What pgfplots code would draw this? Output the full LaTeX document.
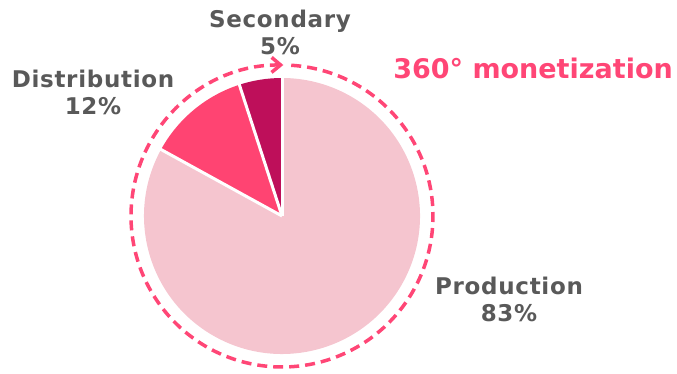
\documentclass[border=0pt]{standalone}
\usepackage{pgfplots}
\pgfplotsset{compat=1.18}
\usepackage{pgfplotstable}
\usepackage{fontspec}
\setmainfont{DejaVu Sans}
\newfontfamily\lblfont[LetterSpace=3]{DejaVu Sans}
\usetikzlibrary{arrows.meta}
\definecolor{prodC}{HTML}{F5C5CF}
\definecolor{distC}{HTML}{FF4472}
\definecolor{secC}{HTML}{BE0F5A}
\definecolor{ringC}{HTML}{FF4676}
\definecolor{txtC}{HTML}{595959}

\pgfplotstableread{
label value
Secondary 5
Distribution 12
Production 83
}\piedata
\pgfplotstablegetelem{0}{value}\of\piedata \let\vA\pgfplotsretval
\pgfplotstablegetelem{1}{value}\of\piedata \let\vB\pgfplotsretval
\pgfplotstablegetelem{2}{value}\of\piedata \let\vC\pgfplotsretval
\pgfmathsetmacro\aA{90+3.6*\vA}
\pgfmathsetmacro\aB{\aA+3.6*\vB}
\pgfmathsetmacro\aC{\aB+3.6*\vC}

\begin{document}
\begin{tikzpicture}
\begin{axis}[
  width=677bp, height=372bp, scale only axis,
  xmin=0, xmax=677, ymin=0, ymax=372,
  hide axis, clip=false,
]
\path (axis cs:0,0) (axis cs:677,372);
% slices (counter-clockwise from top)
\fill[prodC] (axis cs:282,156) -- ++(\aB:138bp) arc[start angle=\aB, end angle=\aC, radius=138bp] -- cycle;
\fill[distC] (axis cs:282,156) -- ++(\aA:138bp) arc[start angle=\aA, end angle=\aB, radius=138bp] -- cycle;
\fill[secC] (axis cs:282,156) -- ++(90:138bp) arc[start angle=90, end angle=\aA, radius=138bp] -- cycle;
% white separators
\draw[white, line width=3bp] (axis cs:282,156) -- ++(90:139bp);
\draw[white, line width=3bp] (axis cs:282,156) -- ++(\aA:139bp);
\draw[white, line width=3bp] (axis cs:282,156) -- ++(\aB:139bp);
% dashed ring with arrow
\draw[ringC, line width=3.5bp, dash pattern=on 10bp off 6bp, -{Straight Barb[length=9bp,width=15bp]}]
  (axis cs:282,156) ++(86.5:151bp) arc[start angle=86.5, end angle=-270.5, radius=151bp];
% labels
\node[txtC, font=\lblfont\fontsize{23bp}{27bp}\selectfont\bfseries, align=center] at (axis cs:280,340) {Secondary\\5\%};
\node[txtC, font=\lblfont\fontsize{23bp}{27bp}\selectfont\bfseries, align=center] at (axis cs:93,280) {Distribution\\12\%};
\node[txtC, font=\lblfont\fontsize{23bp}{27bp}\selectfont\bfseries, align=center] at (axis cs:509,73) {Production\\83\%};
\node[ringC, font=\fontsize{27bp}{30bp}\selectfont\bfseries] at (axis cs:533,304) {360° monetization};
\end{axis}
\end{tikzpicture}
\end{document}
